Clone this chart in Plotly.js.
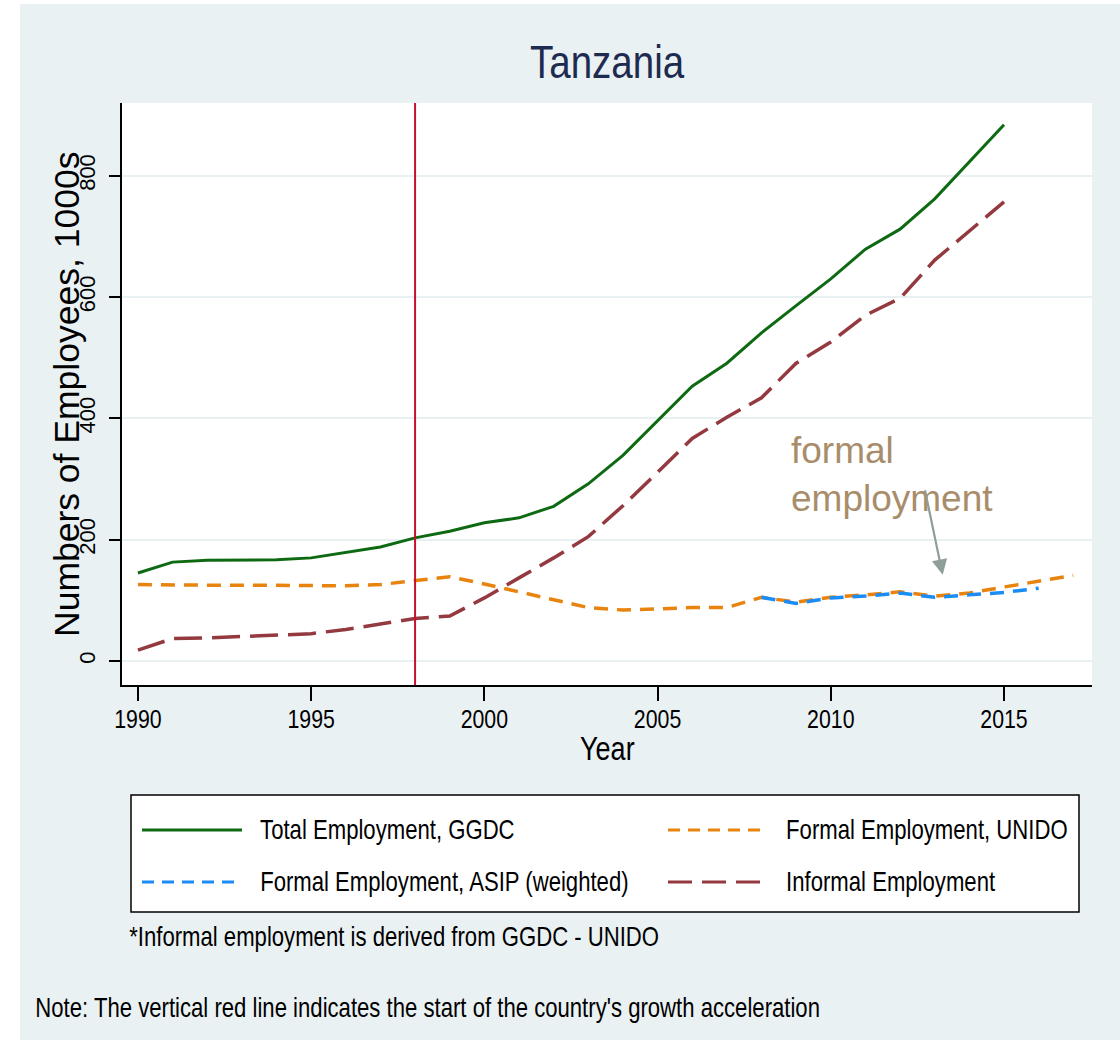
<!DOCTYPE html>
<html>
<head>
<meta charset="utf-8">
<script src="https://cdn.plot.ly/plotly-3.0.1.min.js"></script>
<style>
  html, body { margin: 0; padding: 0; background: #ffffff; width: 1120px; height: 1040px; overflow: hidden; }
  #chart { position: absolute; left: 20px; top: 4px; width: 1100px; height: 1036px; }
</style>
</head>
<body>
<div id="chart"></div>
<script>
// ---- data ----
const yearsGGDC = [1990,1991,1992,1993,1994,1995,1996,1997,1998,1999,2000,2001,2002,2003,2004,2005,2006,2007,2008,2009,2010,2011,2012,2013,2014,2015];
const totalGGDC = [145,163,166,167,167,170,179,188,203,214,228,236,255,292,339,396,453,491,541,586,630,679,712,762,823,884];

const yearsUNIDO = [1990,1991,1992,1993,1994,1995,1996,1997,1998,1999,2000,2001,2002,2003,2004,2005,2006,2007,2008,2009,2010,2011,2012,2013,2014,2015,2016,2017];
const formalUNIDO = [126,125,125,125,125,125,124,126,132,139,127,114,102,88,84,86,88,88,105,97,105,109,114,107,112,122,131,141];

const yearsASIP = [2008,2009,2010,2011,2012,2013,2014,2015,2016];
const formalASIP = [105,95,104,107,112,105,109,113,120];

const yearsInformal = yearsGGDC;
const informalEmp = [18,37,38,40,42,45,52,61,70,74,104,137,170,205,256,311,367,402,434,491,526,570,598,661,709,757];

const accelYear = 1998;
const xTicks = [1990,1995,2000,2005,2010,2015];
const yTicks = [0,200,400,600,800];

const seriesNames = ["Total Employment, GGDC", "Formal Employment, UNIDO", "Formal Employment, ASIP (weighted)", "Informal Employment"];

// ---- styles ----
const REG = "'Liberation Sans', Arial, sans-serif";
const NARROW = REG;          // condensed horizontally after drawing
const SQUEEZE = 0.82;
const cGreen = "#0E6A12", cOrange = "#E8830E", cBlue = "#1C8CF5", cMaroon = "#93393F";
const dashShort = "14px,9px", dashLong = "28px,10px";

// plot area in div pixels
const W = 1100, H = 1036;
const mL = 102, mR = 28, mT = 99, mB = 355;
const pw = W - mL - mR, ph = H - mT - mB;
const px = x => (x - mL) / pw;
const py = y => (H - mB - y) / ph;

const traces = [
  {x: yearsGGDC, y: totalGGDC, name: seriesNames[0], mode: "lines", line: {color: cGreen, width: 3}},
  {x: yearsUNIDO, y: formalUNIDO, name: seriesNames[1], mode: "lines", line: {color: cOrange, width: 3.5, dash: dashShort}},
  {x: yearsASIP, y: formalASIP, name: seriesNames[2], mode: "lines", line: {color: cBlue, width: 3.5, dash: dashShort}},
  {x: yearsInformal, y: informalEmp, name: seriesNames[3], mode: "lines", line: {color: cMaroon, width: 3.5, dash: dashLong}}
];

// manual legend (Stata style)
const legendRows = [
  {name: seriesNames[0], color: cGreen, dash: "solid", x0: 122, x1: 222, tx: 238, y: 826},
  {name: seriesNames[1], color: cOrange, dash: "dash", x0: 648, x1: 746, tx: 764, y: 826},
  {name: seriesNames[2], color: cBlue, dash: "dash", x0: 122, x1: 222, tx: 238, y: 878},
  {name: seriesNames[3], color: cMaroon, dash: "longdash", x0: 648, x1: 746, tx: 764, y: 878}
];

const shapes = [
  {type: "line", xref: "x", yref: "paper", x0: accelYear, x1: accelYear, y0: 0, y1: 1,
   line: {color: "#C8102E", width: 2}},
  {type: "rect", xref: "paper", yref: "paper", x0: px(111), x1: px(1059), y0: py(791), y1: py(908),
   line: {color: "#000000", width: 1.5}, fillcolor: "#ffffff", layer: "below"}
];
legendRows.forEach(r => {
  shapes.push({type: "line", xref: "paper", yref: "paper", x0: px(r.x0), x1: px(r.x1), y0: py(r.y), y1: py(r.y),
    line: {color: r.color, width: 3, dash: r.dash === "dash" ? "12px,8px" : (r.dash === "longdash" ? "24px,10px" : "solid")}});
});

const annotations = [
  {xref: "paper", yref: "paper", x: px(47), y: py(391), text: "Numbers of Employees, 1000s", textangle: -90,
   showarrow: false, xanchor: "center", yanchor: "middle", font: {family: REG, size: 35.5, color: "#000"}},
  {xref: "x", yref: "y", x: 2008.8, y: 307, text: "formal<br>employment", showarrow: false, align: "left",
   xanchor: "left", yanchor: "middle", font: {family: REG, size: 37, color: "#A88D6B"}},
  {xref: "x", yref: "y", x: 2013.23, y: 142, ax: 2012.71, ay: 284, axref: "x", ayref: "y", text: "",
   showarrow: true, arrowhead: 2, arrowsize: 1.4, arrowwidth: 2.2, arrowcolor: "#8E9E98"},
  {xref: "paper", yref: "paper", x: px(587), y: py(744), text: "Year", showarrow: false,
   xanchor: "center", yanchor: "middle", font: {family: NARROW, size: 33, color: "#000"}},
  {xref: "paper", yref: "paper", x: px(107), y: py(933), text: "*Informal employment is derived from GGDC - UNIDO",
   showarrow: false, xanchor: "left", yanchor: "middle", font: {family: NARROW, size: 27, color: "#000"}},
  {xref: "paper", yref: "paper", x: px(13), y: py(1004), text: "Note: The vertical red line indicates the start of the country's growth acceleration",
   showarrow: false, xanchor: "left", yanchor: "middle", font: {family: NARROW, size: 27, color: "#000"}}
];
legendRows.forEach(r => {
  annotations.push({xref: "paper", yref: "paper", x: px(r.tx), y: py(r.y), text: r.name, showarrow: false,
    xanchor: "left", yanchor: "middle", font: {family: NARROW, size: 27, color: "#000"}});
});

const layout = {
  width: W, height: H,
  paper_bgcolor: "#EAF1F3", plot_bgcolor: "#ffffff",
  margin: {l: mL, r: mR, t: mT, b: mB, pad: 0},
  showlegend: false,
  title: {text: "Tanzania", xref: "paper", x: px(587), xanchor: "center", y: 1 - 58 / H, yanchor: "middle", yref: "container",
          font: {family: NARROW, size: 47, color: "#1E2B50"}},
  xaxis: {range: [1989.54, 2017.54], tickvals: xTicks, ticktext: xTicks.map(String),
          showgrid: false, zeroline: false, showline: true, linecolor: "#000", linewidth: 2,
          ticks: "outside", ticklen: 14, tickwidth: 2, tickcolor: "#000", ticklabelstandoff: -4,
          tickfont: {family: NARROW, size: 26, color: "#000"}},
  yaxis: {range: [-39.6, 920], tickvals: yTicks, ticktext: yTicks.map(String), tickangle: -90,
          showgrid: true, gridcolor: "#E8F0F2", gridwidth: 2, zeroline: false,
          showline: true, linecolor: "#000", linewidth: 2,
          ticks: "outside", ticklen: 11, tickwidth: 2, tickcolor: "#000", ticklabelstandoff: 5,
          tickfont: {family: REG, size: 22, color: "#000"}},
  shapes: shapes,
  annotations: annotations
};

// horizontally condense text (Stata's narrow rendering), keeping the anchor point fixed
function condense(nodes, mode) {
  nodes.forEach(el => {
    const bb = el.getBBox();
    const cx = mode === "left" ? bb.x : bb.x + bb.width / 2;
    const t = el.getAttribute("transform") || "";
    el.setAttribute("transform", t + " translate(" + cx + ",0) scale(" + SQUEEZE + ",1) translate(" + (-cx) + ",0)");
  });
}

Plotly.newPlot("chart", traces, layout, {displayModeBar: false, staticPlot: true}).then(gd => {
  condense(gd.querySelectorAll(".gtitle"), "center");
  condense(gd.querySelectorAll(".xtick text"), "center");
  gd.querySelectorAll("g.annotation").forEach(g => {
    const idx = +g.getAttribute("data-index");
    if (idx === 3) condense(g.querySelectorAll("text.annotation-text"), "center");
    else if (idx >= 4) condense(g.querySelectorAll("text.annotation-text"), "left");
  });
});
</script>
</body>
</html>
